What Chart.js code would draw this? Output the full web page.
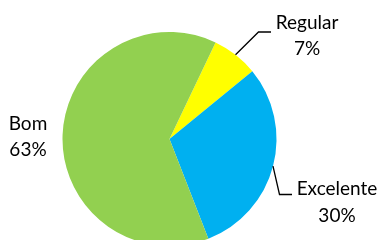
<!DOCTYPE html>
<html>
<head>
<meta charset="utf-8">
<script src="https://cdn.jsdelivr.net/npm/chart.js@4/dist/chart.umd.min.js"></script>
<style>
  html, body { margin: 0; padding: 0; background: #fff; overflow: hidden; }
  #wrap { width: 382px; height: 240px; overflow: hidden; }
</style>
</head>
<body>
<div id="wrap"><canvas id="pie" width="382" height="260"></canvas></div>
<script>
const categories = ['Regular', 'Excelente', 'Bom'];
const percents = [7, 30, 63];
const sliceColors = ['#FFFF00', '#00B0F0', '#92D050'];

// where each label sits and how its leader line bends (null = no leader)
const labelLayout = [
    { x: 307, y: 28.5, elbow: [258.5, 32], end: [271, 32] },
    { x: 337, y: 195, elbow: [279.5, 194.5], end: [292, 194.5] },
    { x: 28, y: 129.5, elbow: null }
];

const pieLabels = {
    id: 'pieLabels',
    afterDatasetsDraw(chart){
        const ctx = chart.ctx;
        const meta = chart.getDatasetMeta(0);
        ctx.save();
        meta.data.forEach((arc, i) => {
            const p = arc.getProps(['x', 'y', 'startAngle', 'endAngle', 'outerRadius'], true);
            const mid = (p.startAngle + p.endAngle) / 2;
            const lay = labelLayout[i];
            if(lay.elbow){
                ctx.beginPath();
                ctx.strokeStyle = '#000';
                ctx.lineWidth = 1.3;
                ctx.moveTo(p.x + Math.cos(mid) * p.outerRadius, p.y + Math.sin(mid) * p.outerRadius);
                ctx.lineTo(lay.elbow[0], lay.elbow[1]);
                ctx.lineTo(lay.end[0], lay.end[1]);
                ctx.stroke();
            }
            ctx.fillStyle = '#000';
            ctx.font = '19px Lato, "Open Sans", sans-serif';
            ctx.textAlign = 'center';
            ctx.textBaseline = 'alphabetic';
            ctx.fillText(categories[i], lay.x, lay.y);
            ctx.fillText(percents[i] + '%', lay.x, lay.y + 26.5);
        });
        ctx.restore();
    }
};

const canvasEl = document.getElementById('pie');
new Chart(canvasEl.getContext('2d'), {
    type: 'pie',
    data: {
        labels: categories,
        datasets: [{
            data: percents,
            backgroundColor: sliceColors,
            borderWidth: 0
        }]
    },
    options: {
        responsive: false,
        animation: false,
        rotation: 25.5,
        layout: { padding: { left: 62.5, right: 105.5, top: 32, bottom: 14 } },
        plugins: {
            legend: { display: false },
            tooltip: { enabled: false }
        }
    },
    plugins: [pieLabels]
});
</script>
</body>
</html>
